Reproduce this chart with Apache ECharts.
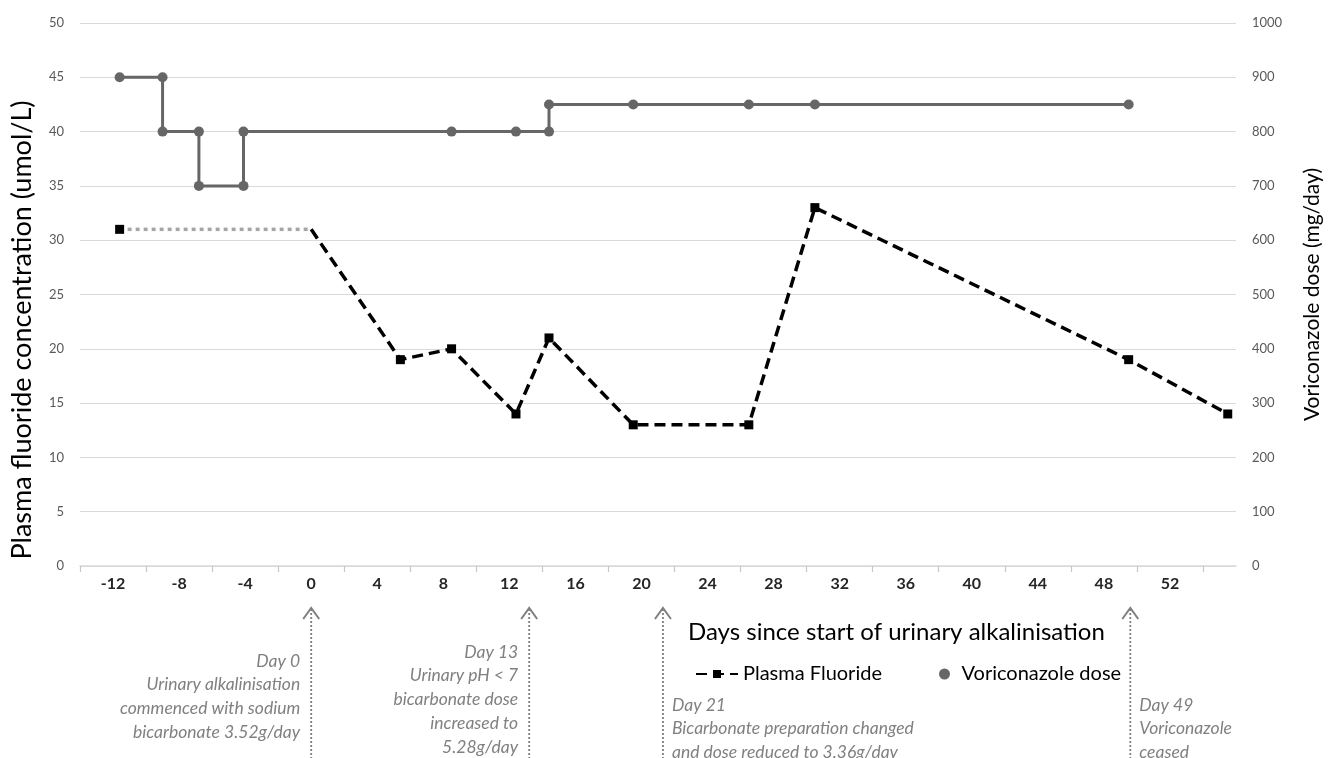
<!DOCTYPE html>
<html>
<head>
<meta charset="utf-8">
<script src="https://cdn.jsdelivr.net/npm/echarts@6/dist/echarts.min.js"></script>
<style>
html,body{margin:0;padding:0;background:#fff;}
#chart{width:1331px;height:758px;}
</style>
</head>
<body>
<div id="chart"></div>
<script>
// ---- data ----
const xLabelDays = [-12,-8,-4,0,4,8,12,16,20,24,28,32,36,40,44,48,52];
const xTickDays = [-14,-10,-6,-2,2,6,10,14,18,22,26,30,34,38,42,46,50,54];
const preFluorideDays = [-11.6, 0];
const preFluorideValues = [31, 31];
const fluorideDays = [0, 5.4, 8.5, 12.4, 14.4, 19.5, 26.5, 30.5, 49.5, 55.5];
const fluorideValues = [31, 19, 20, 14, 21, 13, 13, 33, 19, 14];
const voriDays = [-11.6, -9, -9, -6.8, -6.8, -4.1, -4.1, 8.5, 12.4, 14.4, 14.4, 19.5, 26.5, 30.5, 49.5];
const voriDoses = [900, 900, 800, 800, 700, 700, 800, 800, 800, 800, 850, 850, 850, 850, 850];
const annotationDays = [0, 13.2, 21.3, 49.6];
const annotationTexts = [
  ['Day 0','Urinary alkalinisation','commenced with sodium','bicarbonate 3.52g/day'],
  ['Day 13','Urinary pH < 7','bicarbonate dose','increased to','5.28g/day'],
  ['Day 21','Bicarbonate preparation changed','and dose reduced to 3.36g/day'],
  ['Day 49','Voriconazole','ceased']
];

const FONT = 'Lato, "Open Sans", sans-serif';
const chart = echarts.init(document.getElementById('chart'));

const pair = (xs, ys) => xs.map((x, i) => [x, ys[i]]);

chart.setOption({
  animation: false,
  backgroundColor: '#fff',
  textStyle: { fontFamily: FONT },
  grid: { left: 80, right: 94, top: 23, bottom: 192 },
  legend: [
    {
      left: 690, top: 659,
      data: ['Plasma Fluoride'],
      itemWidth: 42, itemHeight: 10,
      textStyle: { fontFamily: FONT, fontSize: 20, color: '#000' }
    },
    {
      left: 934, top: 659,
      data: [{ name: 'Voriconazole dose', icon: 'circle' }],
      itemWidth: 24, itemHeight: 11,
      textStyle: { fontFamily: FONT, fontSize: 20, color: '#000' }
    }
  ],
  xAxis: {
    type: 'value', min: -14, max: 56, interval: 2,
    splitLine: { show: false },
    axisLine: { show: true, lineStyle: { color: '#d9d9d9', width: 1.5 } },
    axisTick: { show: true, customValues: xTickDays, length: 6, lineStyle: { color: '#c8c8c8', width: 1.2 } },
    axisLabel: { customValues: xLabelDays, fontFamily: FONT, fontWeight: 'bold', fontSize: 16, color: '#262626', margin: 10 }
  },
  yAxis: [
    {
      type: 'value', min: 0, max: 50, interval: 5,
      axisLine: { show: false }, axisTick: { show: false },
      splitLine: { lineStyle: { color: '#d9d9d9', width: 1.2 } },
      axisLabel: { fontFamily: FONT, fontSize: 13, color: '#595959', margin: 16 }
    },
    {
      type: 'value', min: 0, max: 1000, interval: 100, position: 'right',
      name: 'Voriconazole dose (mg/day)',
      nameLocation: 'middle', nameGap: 66, nameRotate: 90,
      nameTextStyle: { fontFamily: FONT, fontSize: 21, color: '#000' },
      axisLine: { show: false }, axisTick: { show: false },
      splitLine: { show: false },
      axisLabel: { fontFamily: FONT, fontSize: 13, color: '#595959', margin: 16, formatter: v => String(v) }
    }
  ],
  series: [
    {
      name: 'Plasma Fluoride pre', type: 'line', yAxisIndex: 0,
      data: pair(preFluorideDays, preFluorideValues).map((p, i) => i === 0 ? { value: p } : { value: p, symbol: 'none' }),
      symbol: 'rect', symbolSize: 9,
      itemStyle: { color: '#000' },
      lineStyle: { color: '#a6a6a6', width: 3.5, type: [4, 4] },
      z: 3
    },
    {
      name: 'Plasma Fluoride', type: 'line', yAxisIndex: 0,
      data: pair(fluorideDays, fluorideValues).map((p, i) => i === 0 ? { value: p, symbol: 'none' } : { value: p }),
      symbol: 'rect', symbolSize: 9,
      itemStyle: { color: '#000' },
      lineStyle: { color: '#000', width: 3.5, type: [11, 6] },
      z: 4
    },
    {
      name: 'Voriconazole dose', type: 'line', yAxisIndex: 1,
      data: pair(voriDays, voriDoses),
      symbol: 'circle', symbolSize: 10,
      itemStyle: { color: '#666666' },
      lineStyle: { color: '#666666', width: 3 },
      z: 5
    }
  ]
});

// annotations below the axis
const gfx = [];
annotationDays.forEach((d, i) => {
  const x = chart.convertToPixel({ xAxisIndex: 0 }, d);
  gfx.push({
    type: 'line', silent: true,
    shape: { x1: x, y1: 609, x2: x, y2: 758 },
    style: { stroke: '#7f7f7f', lineWidth: 1.8, lineDash: [2, 2] }
  });
  gfx.push({
    type: 'polyline', silent: true,
    shape: { points: [[x - 8, 619], [x, 608], [x + 8, 619]] },
    style: { stroke: '#7f7f7f', lineWidth: 2, fill: null }
  });
  const rightSide = (i >= 2);
  const tops = [649, 640, 693, 693];
  gfx.push({
    type: 'text', silent: true,
    x: rightSide ? x + 9 : x - 11,
    y: tops[i],
    style: {
      text: annotationTexts[i].join('\n'),
      fontFamily: FONT, fontStyle: 'italic', fontSize: 17.5,
      lineHeight: 23.8,
      fill: '#808080',
      align: rightSide ? 'left' : 'right',
      verticalAlign: 'top'
    }
  });
});
gfx.push({
  type: 'text', silent: true, x: 688, y: 632,
  style: {
    text: 'Days since start of urinary alkalinisation',
    fontFamily: FONT, fontSize: 24, fill: '#000',
    align: 'left', verticalAlign: 'middle'
  }
});
gfx.push({
  type: 'text', silent: true, x: 22, y: 330, rotation: Math.PI / 2,
  style: {
    text: 'Plasma fluoride concentration (umol/L)',
    fontFamily: FONT, fontSize: 27, fill: '#000',
    align: 'center', verticalAlign: 'middle'
  }
});
chart.setOption({ graphic: gfx });
</script>
</body>
</html>
